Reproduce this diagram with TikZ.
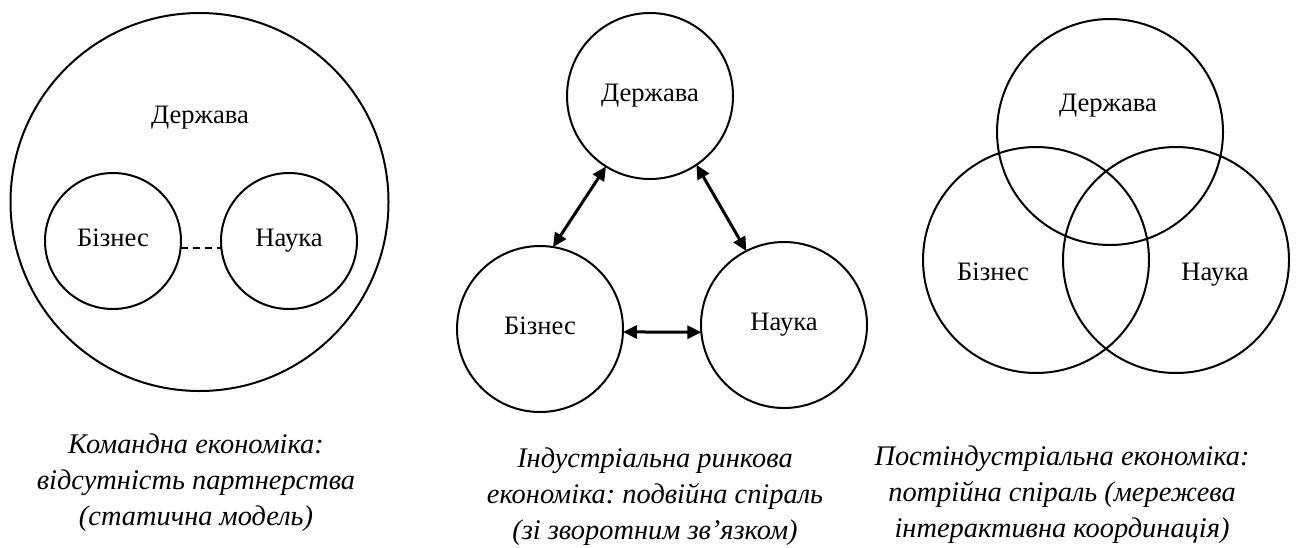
\documentclass[tikz,border=0pt]{standalone}
\usepackage{fontspec}
\setmainfont{Liberation Serif}
\frenchspacing
\usetikzlibrary{arrows.meta}
\tikzset{
	krug/.style={draw, circle, line width=1pt, inner sep=0pt, outer sep=0pt, minimum size=#1},
	txt/.style={font=\fontsize{13.3}{16}\selectfont, text height=1.6ex, text depth=0.3ex},
	capt/.style={align=center, font=\itshape\fontsize{14.2}{18}\selectfont},
	zv/.style={{Triangle[length=7pt,width=6.5pt]}-{Triangle[length=7pt,width=6.5pt]}, line width=1.5pt}
}

\begin{document}
\begin{tikzpicture}[x=0.5pt,y=-0.5pt]
	\useasboundingbox (0,0) rectangle (1299,547);
	% command economy
	\node[krug=189pt] (d1) at (199.5,202) {};
	\node[krug=68pt,txt] (b1) at (113,241) {Бізнес};
	\node[krug=68pt,txt] (n1) at (289,241) {Наука};
	\node[txt] (t1) at (200,118) {Держава};
	\draw[line width=1pt, dash pattern=on 3.5pt off 2.5pt] (b1.-6) -- (n1.186);
	\node[capt] (c1) at (196,483) {Командна економіка:\\відсутність партнерства\\(статична модель)};
	% double spiral
	\node[krug=83pt,txt] (d2) at (650,96) {Держава};
	\node[krug=83pt,txt] (b2) at (540,329) {Бізнес};
	\node[krug=83pt,txt] (n2) at (784,325) {Наука};
	\draw[zv] (d2.238) -- (b2.81);
	\draw[zv] (d2.304) -- (n2.117);
	\draw[zv] (b2.-2) -- (n2.185);
	\node[capt] (c2) at (655,497) {Індустріальна ринкова\\економіка: подвійна спіраль\\(зі зворотним зв’язком)};
	% triple spiral
	\node[krug=113pt] (d3) at (1110,132) {};
	\node[krug=113pt] (b3) at (1036,260) {};
	\node[krug=113pt] (n3) at (1176,260) {};
	\node[txt] (t3) at (1108,106) {Держава};
	\node[txt] (u3) at (993,275) {Бізнес};
	\node[txt] (v3) at (1215,275) {Наука};
	\node[capt] (c3) at (1062,495) {Постіндустріальна економіка:\\потрійна спіраль (мережева\\інтерактивна координація)};
\end{tikzpicture}
\end{document}
